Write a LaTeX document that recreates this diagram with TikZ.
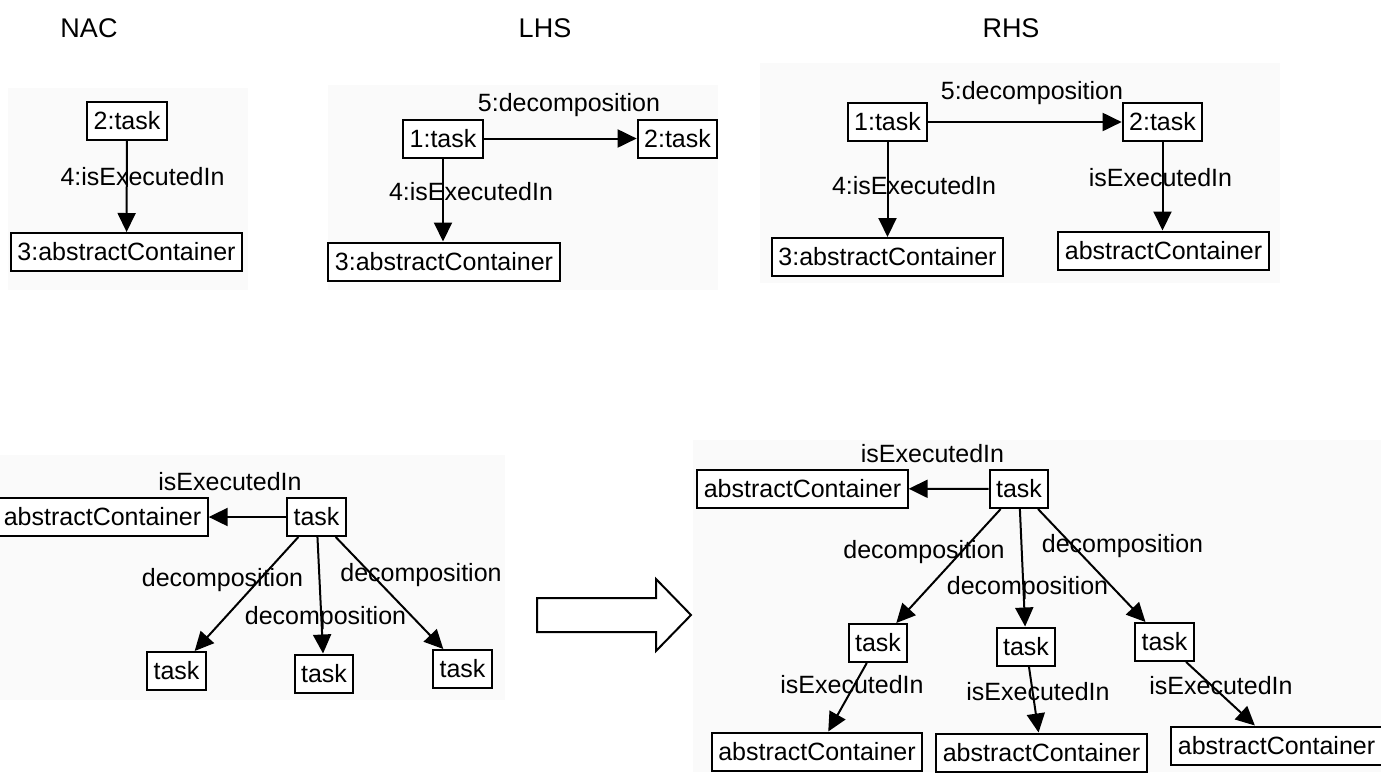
\documentclass[tikz,border=0pt]{standalone}
\usepackage{fontspec}
\setmainfont{Liberation Sans}
\usetikzlibrary{arrows.meta}
\newcommand\labfont{\fontsize{25}{30}\selectfont}
\newcommand\titlefont{\fontsize{27}{32}\selectfont}
\definecolor{panelbg}{RGB}{250,250,250}
\tikzset{
  obj/.style={draw, line width=2pt, inner xsep=6.5pt, inner ysep=0pt,
              minimum height=38pt, font=\labfont, fill=white},
  lbl/.style={font=\labfont, inner sep=0pt},
  ttl/.style={font=\titlefont, inner sep=0pt},
  conn/.style={line width=2pt, -{Triangle[length=19pt,width=18pt]}},
  panel/.style={fill=panelbg, draw=none},
  bigarrow/.style={draw, line width=2pt, fill=white, line join=miter}
}
\begin{document}
\begin{tikzpicture}[x=1pt,y=-1pt]
\useasboundingbox (0,0) rectangle (1381,772);
\fill[white] (0,0) rectangle (1381,772);

% panel backgrounds
\fill[panel] (8,88) rectangle (248,290);
\fill[panel] (328,85) rectangle (718,290);
\fill[panel] (760,63) rectangle (1280,283);
\fill[panel] (0,455) rectangle (505,700);
\fill[panel] (693,440) rectangle (1381,772);

% titles
\node[ttl] (tnac) at (89,28) {NAC};
\node[ttl] (tlhs) at (545,28) {LHS};
\node[ttl] (trhs) at (1011,28) {RHS};

% NAC
\node[obj] (n2) at (127,121) {2:task};
\node[obj] (n3) at (126.5,252) {3:abstractContainer};
\draw[conn] (n2) -- (n3);
\node[lbl] (nl1) at (142.5,177) {4:isExecutedIn};

% LHS
\node[obj] (l1) at (443,138.5) {1:task};
\node[obj] (l2) at (677.5,138.5) {2:task};
\node[obj] (l3) at (444,261.5) {3:abstractContainer};
\draw[conn] (l1) -- (l2);
\draw[conn] (l1) -- (l1 |- l3.north);
\node[lbl] (ll1) at (569,105) {5:decomposition};
\node[lbl] (ll2) at (471,192) {4:isExecutedIn};

% RHS
\node[obj] (r1) at (887.5,122) {1:task};
\node[obj] (r2) at (1162.5,122) {2:task};
\node[obj] (r3) at (887.5,257) {3:abstractContainer};
\node[obj] (r4) at (1163.5,250.5) {abstractContainer};
\draw[conn] (r1) -- (r2);
\draw[conn] (r1) -- (r1 |- r3.north);
\draw[conn] (r2) -- (r2 |- r4.north);
\node[lbl] (rl1) at (1032,93) {5:decomposition};
\node[lbl] (rl2) at (914,186) {4:isExecutedIn};
\node[lbl] (rl3) at (1160.5,178) {isExecutedIn};

% host graph before the step
\node[obj] (b0) at (102.5,517) {abstractContainer};
\node[obj] (bt) at (316.5,517) {task};
\node[obj] (b1) at (176.5,671) {task};
\node[obj] (b2) at (324,673.5) {task};
\node[obj] (b3) at (462.5,669) {task};
\draw[conn] (bt) -- (b0);
\draw[conn] (bt) -- (b1);
\draw[conn] (bt) -- (b2);
\draw[conn] (bt) -- (b3);
\node[lbl] (bl0) at (230,482) {isExecutedIn};
\node[lbl] (bl1) at (222.5,580) {decomposition};
\node[lbl] (bl2) at (325.5,618) {decomposition};
\node[lbl] (bl3) at (421,575) {decomposition};

% transformation arrow
\draw[bigarrow] (537,598) -- (656,598) -- (656,579) -- (691,615)
  -- (656,651) -- (656,632) -- (537,632) -- cycle;

% host graph after the step
\node[obj] (c0) at (802.5,488.5) {abstractContainer};
\node[obj] (ct) at (1019,489) {task};
\node[obj] (c1) at (878,643) {task};
\node[obj] (c2) at (1026,646.5) {task};
\node[obj] (c3) at (1164.5,642) {task};
\node[obj] (d1) at (817,751.5) {abstractContainer};
\node[obj] (d2) at (1041.5,752.5) {abstractContainer};
\node[obj] (d3) at (1276.5,745.5) {abstractContainer};
\draw[conn] (ct) -- (c0);
\draw[conn] (ct) -- (c1);
\draw[conn] (ct) -- (c2);
\draw[conn] (ct) -- (c3);
\draw[conn] (c1) -- (d1);
\draw[conn] (c2) -- (d2);
\draw[conn] (c3) -- (d3);
\node[lbl] (cl0) at (932.5,454) {isExecutedIn};
\node[lbl] (cl1) at (924,552) {decomposition};
\node[lbl] (cl2) at (1027.5,588) {decomposition};
\node[lbl] (cl3) at (1122.5,546) {decomposition};
\node[lbl] (dl1) at (852,685) {isExecutedIn};
\node[lbl] (dl2) at (1038,692) {isExecutedIn};
\node[lbl] (dl3) at (1221,686) {isExecutedIn};
\end{tikzpicture}
\end{document}
